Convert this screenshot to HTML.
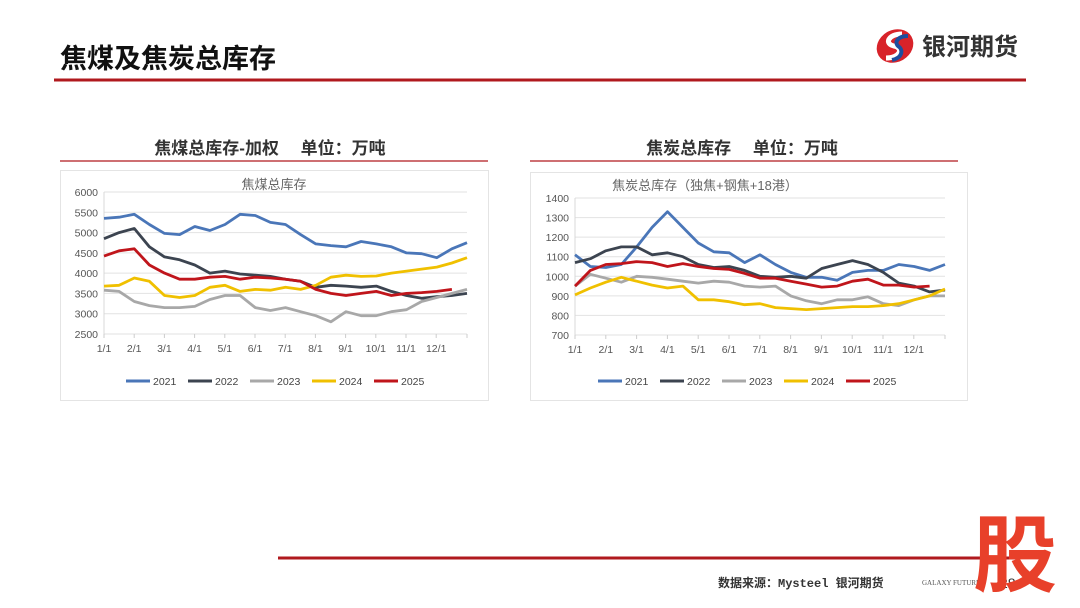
<!DOCTYPE html>
<html><head><meta charset="utf-8"><style>
html,body{margin:0;padding:0;background:#fff;width:1080px;height:608px;overflow:hidden;font-family:"Liberation Sans","Noto Sans CJK SC",sans-serif;}
svg{position:absolute;left:0;top:0}
</style></head><body>
<svg id="s" width="1080" height="608" xmlns="http://www.w3.org/2000/svg" font-family="Liberation Sans, Noto Sans CJK SC, sans-serif">
<text x="60" y="68" font-size="27" font-weight="bold" fill="#111">焦煤及焦炭总库存</text>
<line x1="54" y1="80" x2="1026" y2="80" stroke="#b0191e" stroke-width="3"/>
<g>
<ellipse cx="895" cy="46" rx="19" ry="16" fill="#d8232a" transform="rotate(-30 895 46)"/>
<path d="M902 34 C888 34 884 44 894 46 C904 48 900 58 886 58" stroke="#fff" stroke-width="5" fill="none"/>
<path d="M908 36 C898 36 894 42 898 46 C904 50 902 58 892 60" stroke="#1d4e9e" stroke-width="4" fill="none"/>
<text x="922" y="55" font-size="24" font-weight="bold" fill="#333">银河期货</text>
</g>
<text x="270" y="154" text-anchor="middle" font-size="17" font-weight="bold" fill="#333">焦煤总库存-加权　 单位：万吨</text>
<line x1="60" y1="161" x2="488" y2="161" stroke="#b0191e" stroke-width="1.2"/>
<text x="742" y="154" text-anchor="middle" font-size="17" font-weight="bold" fill="#333">焦炭总库存　 单位：万吨</text>
<line x1="530" y1="161" x2="958" y2="161" stroke="#b0191e" stroke-width="1.2"/>
<rect x="60.5" y="170.5" width="428" height="230" fill="none" stroke="#e4e4e4"/>
<rect x="530.5" y="172.5" width="437" height="228" fill="none" stroke="#e4e4e4"/>
<g id="c1"></g><g id="c2"></g>
<line x1="278" y1="558" x2="1020" y2="558" stroke="#b0191e" stroke-width="3"/>
<text x="718" y="587" font-size="12" font-weight="bold" fill="#333" font-family="Liberation Mono, Noto Sans CJK SC, monospace">数据来源：Mysteel 银河期货</text>
<text x="922" y="585" font-size="7" fill="#555" font-family="Liberation Serif, serif">GALAXY FUTURES</text>
<text x="1000" y="588" font-size="14" fill="#333">28</text>
<text x="1015" y="585" text-anchor="middle" font-size="84" font-weight="bold" fill="#e8402a" font-family="Noto Sans CJK SC, sans-serif">股</text>
</svg>
<script>
const cols=["#4a76b8","#3c4450","#a8a8a8","#f0c000","#c0151b"];
function chart(g,o){
 let h='';const ys=(v)=>o.y0+(o.vmax-v)/(o.vmax-o.vmin)*(o.y1-o.y0);
 for(let v=o.vmin;v<=o.vmax;v+=o.step){const y=ys(v);
  h+=`<line x1="${o.x0}" y1="${y}" x2="${o.xe}" y2="${y}" stroke="#e2e2e2" stroke-width="1"/>`;
  h+=`<text x="${o.x0-6}" y="${y+4}" text-anchor="end" font-size="10.5" fill="#555">${v}</text>`;}
 h+=`<line x1="${o.x0}" y1="${o.y0}" x2="${o.x0}" y2="${o.y1}" stroke="#d8d8d8"/>`;
 for(let m=0;m<12;m++){const x=o.x0+m*o.ms;
  h+=`<line x1="${x}" y1="${o.y1}" x2="${x}" y2="${o.y1+4}" stroke="#ccc"/>`;
  h+=`<text x="${x}" y="${o.y1+18}" text-anchor="middle" font-size="10.5" fill="#555">${m+1}/1</text>`;}
 h+=`<line x1="${o.xe}" y1="${o.y1}" x2="${o.xe}" y2="${o.y1+4}" stroke="#ccc"/>`;
 o.data.forEach((d,k)=>{const dx=(o.xe-o.x0)/24;
  const p=d.map((v,i)=>`${(o.x0+i*dx).toFixed(1)},${ys(v).toFixed(1)}`).join(' ');
  h+=`<polyline points="${p}" fill="none" stroke="${cols[k]}" stroke-width="2.8" stroke-linejoin="round"/>`;});
 h+=`<text x="${o.tx}" y="${o.ty}" text-anchor="middle" font-size="13" fill="#666">${o.title}</text>`;
 ["2021","2022","2023","2024","2025"].forEach((n,k)=>{const x=o.lx+k*o.lw;
  h+=`<line x1="${x}" y1="${o.ly}" x2="${x+24}" y2="${o.ly}" stroke="${cols[k]}" stroke-width="3"/>`;
  h+=`<text x="${x+27}" y="${o.ly+4}" font-size="10.5" fill="#444">${n}</text>`;});
 document.getElementById(g).innerHTML=h;}
chart('c1',{x0:104,xe:467,ms:30.2,y0:192,y1:334,vmin:2500,vmax:6000,step:500,tx:274,ty:189,title:'焦煤总库存',lx:126,ly:381,lw:62,data:[
[5350,5380,5450,5200,4980,4950,5150,5050,5200,5450,5420,5250,5200,4950,4720,4680,4650,4780,4720,4650,4500,4480,4380,4600,4750],
[4850,5000,5100,4650,4400,4330,4200,4000,4050,3980,3950,3920,3850,3800,3650,3700,3680,3650,3680,3550,3450,3380,3420,3450,3500],
[3580,3550,3300,3200,3150,3150,3180,3350,3450,3450,3150,3080,3150,3050,2950,2800,3050,2950,2950,3050,3100,3300,3400,3500,3600],
[3680,3700,3880,3800,3450,3400,3450,3650,3700,3550,3600,3580,3650,3600,3700,3900,3950,3920,3930,4000,4050,4100,4150,4250,4380],
[4420,4550,4600,4200,4000,3850,3850,3900,3920,3850,3900,3880,3850,3800,3600,3500,3450,3500,3550,3450,3500,3520,3550,3600]]});
chart('c2',{x0:575,xe:945,ms:30.8,y0:198,y1:335,vmin:700,vmax:1400,step:100,tx:705,ty:190,title:'焦炭总库存（独焦+钢焦+18港）',lx:598,ly:381,lw:62,data:[
[1110,1050,1045,1060,1150,1250,1330,1250,1170,1125,1120,1070,1110,1060,1020,995,995,980,1020,1030,1030,1060,1050,1030,1060],
[1070,1090,1130,1150,1150,1110,1120,1100,1060,1045,1050,1030,1000,995,1000,990,1040,1060,1080,1060,1020,965,950,920,930],
[950,1010,990,970,1000,995,985,975,965,975,970,950,945,950,900,875,860,880,880,895,860,850,880,900,900],
[905,940,970,995,975,955,940,950,880,880,870,855,860,840,835,830,835,840,845,845,850,860,880,900,935],
[950,1030,1060,1065,1075,1070,1050,1065,1050,1040,1035,1015,990,990,975,960,945,950,975,985,955,955,945,950]]});
</script>
</body></html>
